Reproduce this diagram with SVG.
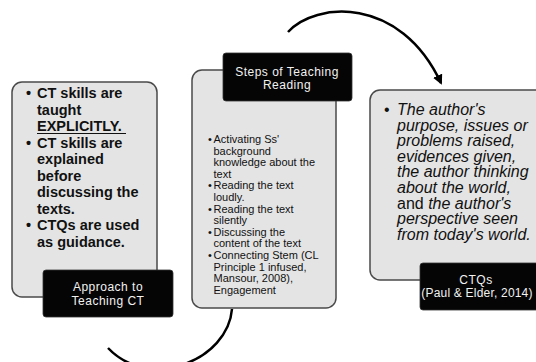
<svg xmlns="http://www.w3.org/2000/svg" width="536" height="362" viewBox="0 0 536 362">
<style>
.card{fill:#e4e4e4;stroke:#4a4a4a;stroke-width:1.5}
.lab{fill:#050505;stroke:#333;stroke-width:0.8}
.t1{font-family:"Liberation Sans",Arial,sans-serif;font-size:14.5px;font-weight:bold;fill:#111}
.t2{font-family:"Liberation Sans",Arial,sans-serif;font-size:11px;fill:#111}
.t3{font-family:"Liberation Sans",Arial,sans-serif;font-size:16px;font-style:italic;fill:#111}
.lt{font-family:"Liberation Sans",Arial,sans-serif;font-size:12px;fill:#f2f2f2;text-anchor:middle;letter-spacing:0.5px}
.conn{fill:none;stroke:#000;stroke-width:2.5}
</style>
<defs>
<marker id="ah" viewBox="0 0 10 10" refX="8" refY="5" markerWidth="4" markerHeight="4" orient="auto" markerUnits="strokeWidth">
<path d="M0,0 L10,5 L0,10 Z" fill="#000"/>
</marker>
</defs>
<rect width="536" height="362" fill="#fff"/>
<g id="connectors">
<path class="conn" d="M288,32 C315,2 400,-5 441,83" marker-end="url(#ah)"/>
<path class="conn" d="M232,309 C228,360 150,392 108,348"/>
</g>
<g id="node-approach">
<rect class="card" x="12" y="82" width="145" height="215" rx="10"/>
<text class="t1">
<tspan x="26" y="98">•</tspan><tspan x="37" y="98">CT skills are</tspan>
<tspan x="37" y="114.5">taught</tspan>
<tspan x="37" y="131">EXPLICITLY.</tspan>
<tspan x="26" y="147.5">•</tspan><tspan x="37" y="147.5">CT skills are</tspan>
<tspan x="37" y="164">explained</tspan>
<tspan x="37" y="180.5">before</tspan>
<tspan x="37" y="197">discussing the</tspan>
<tspan x="37" y="213.5">texts.</tspan>
<tspan x="26" y="230">•</tspan><tspan x="37" y="230">CTQs are used</tspan>
<tspan x="37" y="246.5">as guidance.</tspan>
</text>
<line x1="37" y1="133.5" x2="126" y2="133.5" stroke="#111" stroke-width="1.2"/>
<rect class="lab" x="43" y="270" width="130" height="47" rx="3"/>
<text class="lt"><tspan x="108" y="291">Approach to</tspan><tspan x="108" y="305">Teaching CT</tspan></text>
</g>
<g id="node-steps">
<rect class="card" x="192" y="70" width="144" height="238" rx="10"/>
<rect class="lab" x="223" y="53" width="129" height="48" rx="3"/>
<text class="lt"><tspan x="287" y="76">Steps of Teaching</tspan><tspan x="287" y="89">Reading</tspan></text>
<text class="t2">
<tspan x="208" y="143">•</tspan><tspan x="213.5" y="143">Activating Ss'</tspan>
<tspan x="213.5" y="154.6">background</tspan>
<tspan x="213.5" y="166.2">knowledge about the</tspan>
<tspan x="213.5" y="177.8">text</tspan>
<tspan x="208" y="189.4">•</tspan><tspan x="213.5" y="189.4">Reading the text</tspan>
<tspan x="213.5" y="201">loudly.</tspan>
<tspan x="208" y="212.6">•</tspan><tspan x="213.5" y="212.6">Reading the text</tspan>
<tspan x="213.5" y="224.2">silently</tspan>
<tspan x="208" y="235.8">•</tspan><tspan x="213.5" y="235.8">Discussing the</tspan>
<tspan x="213.5" y="247.4">content of the text</tspan>
<tspan x="208" y="259">•</tspan><tspan x="213.5" y="259">Connecting Stem (CL</tspan>
<tspan x="213.5" y="270.6">Principle 1 infused,</tspan>
<tspan x="213.5" y="282.2">Mansour, 2008),</tspan>
<tspan x="213.5" y="293.8">Engagement</tspan>
</text>
</g>
<g id="node-ctqs">
<rect class="card" x="370" y="90" width="180" height="190" rx="10"/>
<text class="t3">
<tspan x="384" y="115" font-style="normal">•</tspan><tspan x="397" y="115">The author's</tspan>
<tspan x="397" y="130.6">purpose, issues or</tspan>
<tspan x="397" y="146.2">problems raised,</tspan>
<tspan x="397" y="161.8">evidences given,</tspan>
<tspan x="397" y="177.4">the author thinking</tspan>
<tspan x="397" y="193">about the world,</tspan>
<tspan x="397" y="208.6"><tspan font-style="normal">and</tspan> the author's</tspan>
<tspan x="397" y="224.2">perspective seen</tspan>
<tspan x="397" y="239.8">from today's world.</tspan>
</text>
<rect class="lab" x="420" y="263" width="130" height="47" rx="3"/>
<text class="lt"><tspan x="476" y="284">CTQs</tspan><tspan x="477" y="297" letter-spacing="0.2">(Paul &amp; Elder, 2014)</tspan></text>
</g>
</svg>
